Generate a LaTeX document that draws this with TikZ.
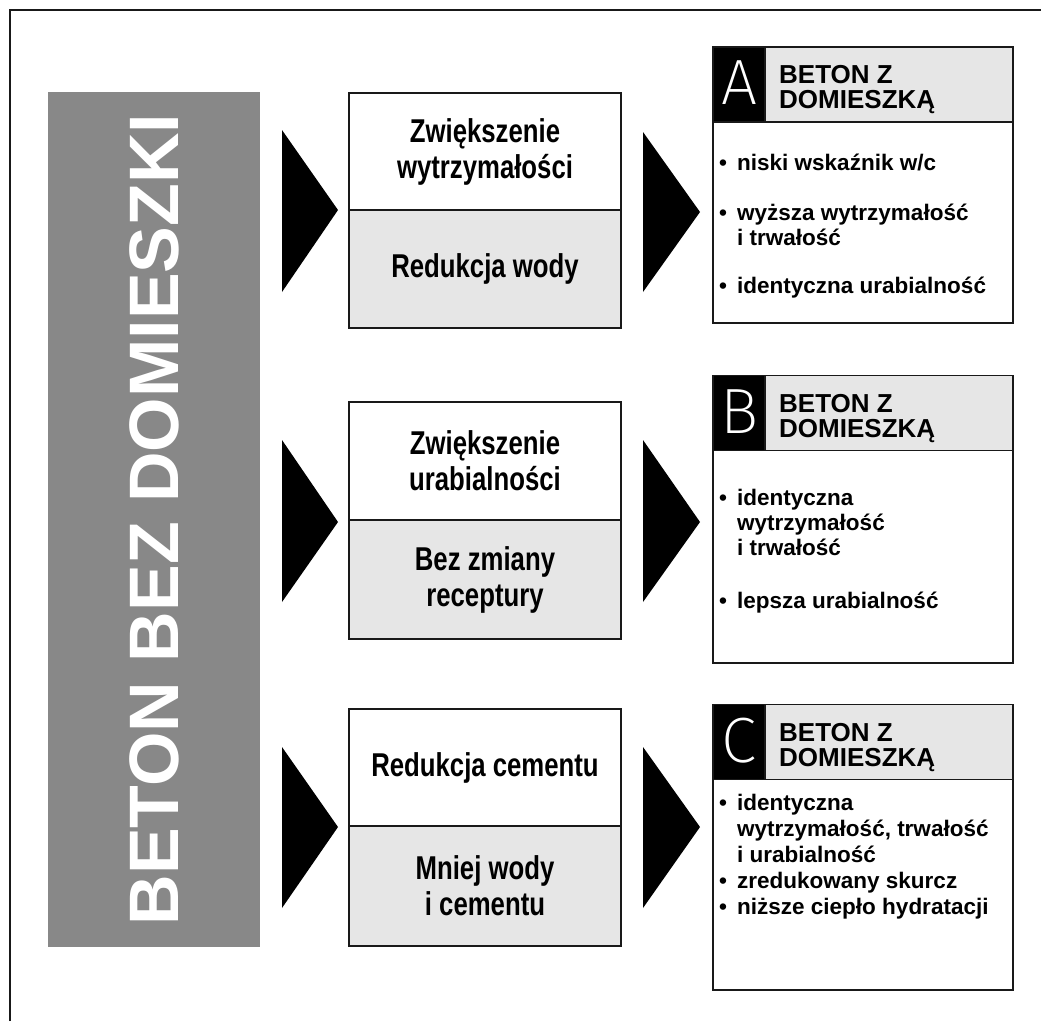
\documentclass[tikz,border=0pt]{standalone}
\usepackage{fontspec}
\usepackage{graphicx}
\setmainfont{Liberation Sans}
\IfFontExistsTF{Fira Sans ExtraLight}{\newfontfamily\thinfont{Fira Sans ExtraLight}}{%
  \IfFontExistsTF{Fira Sans Light}{\newfontfamily\thinfont{Fira Sans Light}}{\newfontfamily\thinfont{Liberation Sans}}}
\newcommand\nrw[1]{\scalebox{0.78}[1]{#1}}
\newcommand\bul{\makebox[18pt][l]{•}}
\newcommand\ind{\hspace*{18pt}}
\definecolor{titlegray}{HTML}{888888}
\definecolor{lightfill}{HTML}{E6E6E6}
\tikzset{
  frame/.style={line width=2pt, draw=black!90},
  titlebox/.style={fill=titlegray, draw=none, text=white, inner sep=0pt,
    font=\bfseries\fontsize{70}{70}\selectfont},
  midhalf/.style={draw=black!90, line width=1.6pt, minimum width=272pt, inner sep=0pt,
    align=center, font=\bfseries\fontsize{33}{36}\selectfont},
  midtop/.style={midhalf, fill=white},
  midbot/.style={midhalf, fill=lightfill},
  rbody/.style={draw=black!90, line width=1.6pt, fill=white, minimum width=300pt, inner sep=0pt},
  rhead/.style={draw=black!90, line width=1.6pt, fill=lightfill, minimum width=248pt,
    minimum height=75pt, inner sep=0pt},
  rsquare/.style={fill=black, draw=black!90, line width=1.6pt, minimum width=52pt,
    minimum height=75pt, inner sep=0pt},
  rletter/.style={text=white, inner sep=0pt, font=\thinfont\fontsize{64}{64}\selectfont},
  htext/.style={anchor=north west, inner sep=0pt, align=left,
    font=\bfseries\fontsize{26}{25}\selectfont},
  btext/.style={anchor=north west, inner sep=0pt, align=left,
    font=\bfseries\fontsize{22.5}{25}\selectfont},
  tri/.style={fill=black, draw=none}
}
\begin{document}
\begin{tikzpicture}[x=1pt,y=-1pt]
\useasboundingbox (0,0) rectangle (1041,1021);
\draw[frame] (10,1021) -- (10,10) -- (1041,10);

% title bar
\node[titlebox, rotate=90, minimum width=855pt, minimum height=212pt] (title) at (154,519.5) {BETON BEZ DOMIESZKI};

% middle boxes
\node[midtop, minimum height=117pt] (m1t) at (485,151.5) {\nrw{Zwiększenie}\\\nrw{wytrzymałości}};
\node[midbot, minimum height=118pt] (m1b) at (485,269) {\nrw{Redukcja wody}};
\node[midtop, minimum height=118pt] (m2t) at (485,461) {\nrw{Zwiększenie}\\\nrw{urabialności}};
\node[midbot, minimum height=119pt] (m2b) at (485,579.5) {\nrw{Bez zmiany}\\\nrw{receptury}};
\node[midtop, minimum height=117pt] (m3t) at (485,767.5) {\nrw{Redukcja cementu}};
\node[midbot, minimum height=120pt] (m3b) at (485,886) {\nrw{Mniej wody}\\\nrw{i cementu}};

% arrows (left)
\fill[tri] (282,130) -- (338,210) -- (282,292) -- cycle;
\fill[tri] (282,440) -- (338,522) -- (282,602) -- cycle;
\fill[tri] (282,747) -- (338,827) -- (282,908) -- cycle;
% arrows (right)
\fill[tri] (643,132) -- (700,212) -- (643,292) -- cycle;
\fill[tri] (643,440) -- (700,522) -- (643,602) -- cycle;
\fill[tri] (643,747) -- (700,827) -- (643,908) -- cycle;

% box A
\node[rbody, minimum height=276pt] (A) at (863,185) {};
\node[rhead] (Ah) at (889,84.5) {};
\node[rsquare] (As) at (739,84.5) {};
\node[rletter] (Al) at (739,82.5) {A};
\node[htext] (Aht) at (779,65) {BETON Z\\DOMIESZKĄ};
\node[btext] (Abt) at (719,150) {\rule{0pt}{20pt}\bul niski wskaźnik w/c\\[25pt]
  \bul wyższa wytrzymałość\\ \ind i trwałość\\[23pt]
  \bul identyczna urabialność};

% box B
\node[rbody, minimum height=287pt] (B) at (863,519.5) {};
\node[rhead] (Bh) at (889,413) {};
\node[rsquare] (Bs) at (739,413) {};
\node[rletter] (Bl) at (739,411.5) {B};
\node[htext] (Bht) at (779,394) {BETON Z\\DOMIESZKĄ};
\node[btext] (Bbt) at (719,485) {\rule{0pt}{20pt}\bul identyczna\\ \ind wytrzymałość\\ \ind i trwałość\\[28pt]
  \bul lepsza urabialność};

% box C
\node[rbody, minimum height=285pt] (C) at (863,847.5) {};
\node[rhead] (Ch) at (889,742) {};
\node[rsquare] (Cs) at (739,742) {};
\node[rletter] (Cl) at (739,740.5) {C};
\node[htext] (Cht) at (779,723) {BETON Z\\DOMIESZKĄ};
\node[btext, font=\bfseries\fontsize{22.5}{26}\selectfont] (Cbt) at (719,790) {\rule{0pt}{20pt}\bul identyczna\\ \ind wytrzymałość, trwałość\\ \ind i urabialność\\
  \bul zredukowany skurcz\\ \bul niższe ciepło hydratacji};
\end{tikzpicture}
\end{document}
